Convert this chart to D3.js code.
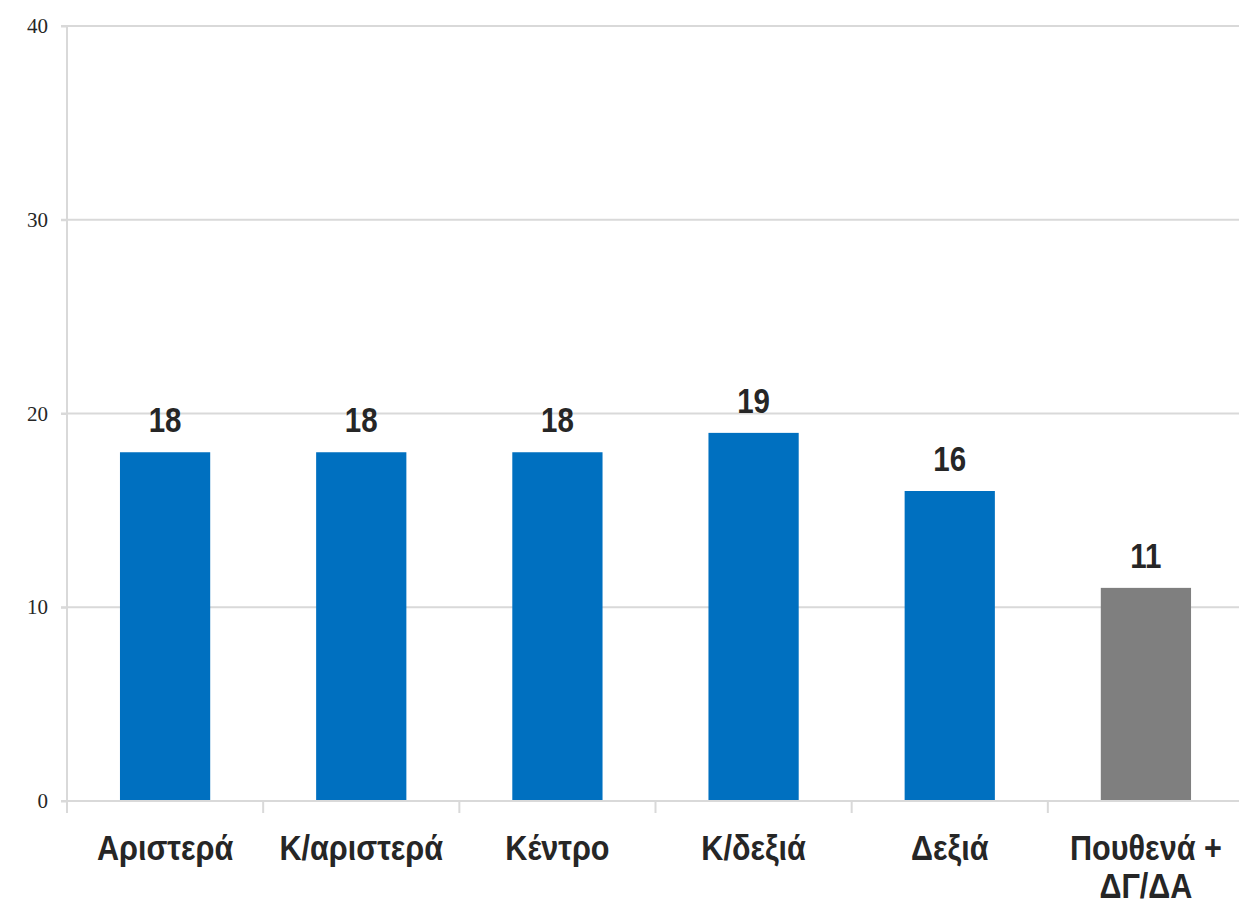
<!DOCTYPE html>
<html><head><meta charset="utf-8">
<script src="https://cdn.jsdelivr.net/npm/d3@7"></script>
<style>
body{margin:0;background:#fff;}
</style></head>
<body>
<svg id="chart" width="1239" height="905"></svg>
<script>
const categories = [["Αριστερά"], ["Κ/αριστερά"], ["Κέντρο"], ["Κ/δεξιά"], ["Δεξιά"], ["Πουθενά +", "ΔΓ/ΔΑ"]];
const values = [18, 18, 18, 19, 16, 11];
const barColors = ["#0070c0", "#0070c0", "#0070c0", "#0070c0", "#0070c0", "#7f7f7f"];
const yTicks = [0, 10, 20, 30, 40];

(function(){
const svg = d3.select("#chart");
const mLeft = 67, mRight = 1244, mTop = 26, mBottom = 801;
const keys = categories.map((c, i) => i);
const x = d3.scaleBand().domain(keys).range([mLeft, mRight]).paddingInner(0).paddingOuter(0);
const y = d3.scaleLinear().domain([0, 40]).range([mBottom, mTop]);
const gridColor = "#d9d9d9";
const narrowVal = 0.82, narrowCat = 0.85;

// gridlines
svg.append("g").selectAll("line").data(yTicks.filter(t => t > 0)).join("line")
  .attr("x1", mLeft - 6).attr("x2", mRight).attr("y1", d => y(d)).attr("y2", d => y(d))
  .attr("stroke", gridColor).attr("stroke-width", 2);

// y axis
const yAxis = svg.append("g").attr("transform", `translate(${mLeft},0)`)
  .call(d3.axisLeft(y).tickValues(yTicks).tickSize(6).tickPadding(13).tickFormat(d3.format("d")));
yAxis.select(".domain").attr("stroke", gridColor).attr("stroke-width", 2).attr("d", `M0,${mTop}V${mBottom + 12}`);
yAxis.selectAll(".tick line").attr("stroke", gridColor).attr("stroke-width", 2);
yAxis.selectAll(".tick text").attr("font-family", "'Liberation Serif','Times New Roman',serif")
  .attr("font-size", 21).attr("fill", "#262626").attr("dy", "0.32em");

// bars
const bw = x.bandwidth() * 0.46;
svg.append("g").selectAll("rect").data(values).join("rect")
  .attr("x", (d, i) => x(i) + (x.bandwidth() - bw) / 2)
  .attr("width", bw)
  .attr("y", d => y(d))
  .attr("height", d => y(0) - y(d))
  .attr("fill", (d, i) => barColors[i]);

// x axis
const xAxis = svg.append("g").attr("transform", `translate(0,${mBottom})`)
  .call(d3.axisBottom(x).tickSize(0).tickFormat(""));
xAxis.select(".domain").attr("stroke", gridColor).attr("stroke-width", 2).attr("d", `M${mLeft - 6},0H${mRight}`);
svg.append("g").selectAll("line").data(d3.range(categories.length + 1)).join("line")
  .attr("x1", i => i < categories.length ? x(i) : mRight)
  .attr("x2", i => i < categories.length ? x(i) : mRight)
  .attr("y1", mBottom).attr("y2", mBottom + 12)
  .attr("stroke", gridColor).attr("stroke-width", 2);

const labelFont = "'Liberation Sans',Arial,sans-serif";
// category labels
const cl = svg.append("g").selectAll("text").data(categories).join("text")
  .attr("transform", (d, i) => `translate(${x(i) + x.bandwidth() / 2},0) scale(${narrowCat},1)`)
  .attr("text-anchor", "middle")
  .attr("font-family", labelFont).attr("font-weight", "bold").attr("font-size", 36)
  .attr("fill", "#262626");
cl.each(function(d) {
  const t = d3.select(this);
  d.forEach((line, j) => {
    t.append("tspan").attr("x", 0).attr("y", 860 + j * 38).text(line);
  });
});

// value labels
svg.append("g").selectAll("text").data(values).join("text")
  .attr("transform", (d, i) => `translate(${x(i) + x.bandwidth() / 2},${y(d) - 20}) scale(${narrowVal},1)`)
  .attr("text-anchor", "middle")
  .attr("font-family", labelFont).attr("font-weight", "bold").attr("font-size", 36)
  .attr("fill", "#262626")
  .text(d => d);
})();
</script>
</body></html>
